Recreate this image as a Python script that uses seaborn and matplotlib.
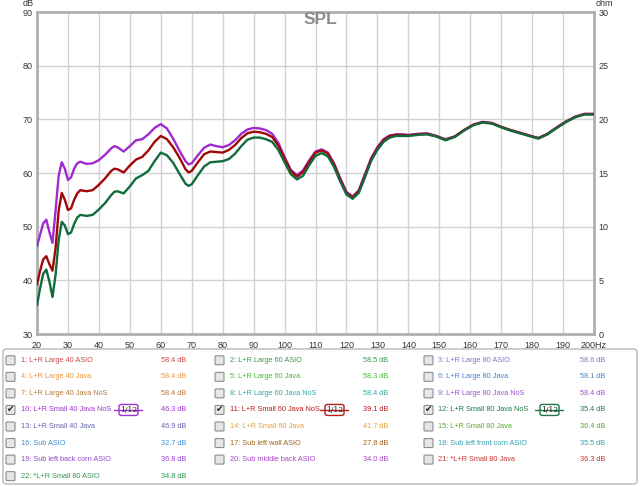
import matplotlib
matplotlib.use("Agg")
import matplotlib.pyplot as plt
import seaborn as sns
import pandas as pd
from matplotlib.patches import FancyBboxPatch
from matplotlib.lines import Line2D

# frequencies (Hz)
freq = [20, 21, 22, 23, 24, 25, 26, 27, 28, 29, 30, 31, 32, 33, 34, 36, 38, 40,
        42, 44, 45, 46, 48, 50, 52, 54, 56, 58, 60, 62, 64, 66, 68, 69, 70, 72,
        74, 76, 78, 80, 82, 84, 86, 88, 90, 92, 94, 96, 98, 100, 102, 104, 106,
        108, 110, 112, 114, 116, 118, 120, 122, 124, 126, 128, 130, 132, 134,
        136, 138, 140, 143, 146, 149, 152, 155, 158, 161, 164, 167, 170, 173,
        176, 179, 182, 185, 188, 191, 194, 197, 200]

# 10: L+R Small 40 Java NoS (purple)
spl_small40 = [46.4, 48.5, 50.6, 51.3, 49.0, 47.0, 53.0, 59.5, 62.0, 60.8, 58.7,
               59.2, 60.8, 61.8, 62.1, 61.7, 61.8, 62.4, 63.4, 64.6, 65.0, 64.8,
               64.0, 65.0, 66.1, 66.3, 67.2, 68.4, 69.1, 68.3, 66.4, 64.2, 62.2,
               61.6, 61.8, 63.3, 64.7, 65.3, 65.0, 64.8, 65.2, 66.1, 67.3, 68.1,
               68.4, 68.3, 68.0, 67.3, 65.6, 63.0, 60.6, 59.6, 60.5, 62.4, 64.0,
               64.4, 63.8, 61.8, 59.0, 56.5, 55.6, 56.8, 59.8, 62.8, 64.8, 66.3,
               67.0, 67.2, 67.2, 67.1, 67.3, 67.4, 66.9, 66.3, 66.8, 68.0, 69.0,
               69.5, 69.3, 68.6, 68.0, 67.5, 67.0, 66.5, 67.3, 68.5, 69.6, 70.5,
               71.0, 71.0]

# 11: L+R Small 60 Java NoS (dark red)
spl_small60 = [39.2, 41.8, 43.9, 44.5, 43.0, 41.8, 46.0, 53.0, 56.3, 55.0, 53.1,
               53.4, 55.0, 56.2, 56.8, 56.6, 56.8, 57.8, 59.0, 60.4, 60.8, 60.7,
               60.1, 61.4, 62.5, 63.0, 64.2, 65.8, 66.9, 66.3, 64.8, 62.9, 60.7,
               60.1, 60.4, 62.0, 63.5, 64.0, 63.9, 63.8, 64.3, 65.2, 66.5, 67.4,
               67.7, 67.6, 67.3, 66.7, 65.1, 62.7, 60.4, 59.3, 60.2, 62.1, 63.8,
               64.2, 63.6, 61.6, 58.8, 56.3, 55.5, 56.6, 59.6, 62.6, 64.6, 66.1,
               66.9, 67.1, 67.1, 67.0, 67.2, 67.3, 66.9, 66.2, 66.8, 68.0, 69.0,
               69.5, 69.3, 68.6, 68.0, 67.5, 67.0, 66.5, 67.3, 68.5, 69.6, 70.5,
               71.0, 71.0]

# 12: L+R Small 80 Java NoS (dark green)
spl_small80 = [35.4, 38.5, 41.2, 42.0, 39.8, 36.9, 41.0, 47.5, 50.9, 50.2, 48.6,
               48.9, 50.5, 51.7, 52.2, 52.0, 52.2, 53.2, 54.4, 55.9, 56.5, 56.6,
               56.2, 57.5, 59.0, 59.6, 60.4, 62.2, 63.8, 63.3, 61.9, 59.9, 58.0,
               57.6, 57.9, 59.6, 61.2, 62.0, 62.1, 62.2, 62.6, 63.6, 65.0, 66.2,
               66.6, 66.6, 66.3, 65.8, 64.3, 62.0, 59.8, 58.8, 59.5, 61.5, 63.2,
               63.7, 63.1, 61.1, 58.4, 56.0, 55.2, 56.3, 59.2, 62.3, 64.3, 65.8,
               66.6, 66.9, 66.9, 66.9, 67.1, 67.2, 66.8, 66.1, 66.7, 67.9, 68.9,
               69.4, 69.2, 68.5, 67.9, 67.4, 66.9, 66.4, 67.2, 68.4, 69.5, 70.4,
               70.9, 70.9]

trace_names = ["10", "11", "12"]
trace_colors = ["#a02ad0", "#a00808", "#106c3c"]

x_ticks = list(range(20, 201, 10))
x_labels = [str(t) for t in x_ticks[:-1]] + ["200Hz"]
db_ticks = list(range(30, 91, 10))
ohm_ticks = list(range(0, 31, 5))

legend_names = [
    "1: L+R Large 40 ASIO", "2: L+R Large 60 ASIO", "3: L+R Large 80 ASIO",
    "4: L+R Large 40 Java", "5: L+R Large 60 Java", "6: L+R Large 80 Java",
    "7: L+R Large 40 Java NoS", "8: L+R Large 60 Java NoS", "9: L+R Large 80 Java NoS",
    "10: L+R Small 40 Java NoS", "11: L+R Small 60 Java NoS", "12: L+R Small 80 Java NoS",
    "13: L+R Small 40 Java", "14: L+R Small 60 Java", "15: L+R Small 80 Java",
    "16: Sub ASIO", "17: Sub left wall ASIO", "18: Sub left front corn ASIO",
    "19: Sub left back corn ASIO", "20: Sub middle back ASIO", "21: *L+R Small 80 Java",
    "22: *L+R Small 80 ASIO",
]
legend_values = ["58.4 dB", "58.5 dB", "58.6 dB", "58.4 dB", "58.3 dB", "58.1 dB",
                 "58.4 dB", "58.4 dB", "58.4 dB", "46.3 dB", "39.1 dB", "35.4 dB",
                 "46.9 dB", "41.7 dB", "36.4 dB", "32.7 dB", "27.8 dB", "35.5 dB",
                 "36.8 dB", "34.0 dB", "36.3 dB", "34.8 dB"]
legend_colors = ["#c84848", "#3c9650", "#7878c8", "#e8963c", "#4cb43c", "#4682c8",
                 "#b8783c", "#34a5a5", "#a050d2", "#a032d2", "#b41e1e", "#1e7846",
                 "#6464b4", "#e6a03c", "#5aaa32", "#468cd2", "#a0641e", "#32a0b4",
                 "#9646c8", "#aa46c8", "#c83232", "#329650"]
checked = [10, 11, 12]

W, H = 640, 486


def fx(x):
    return x / W


def fy(y):
    return 1 - y / H


sns.set_theme(style="white")
plt.rcParams["font.family"] = ["Liberation Sans", "DejaVu Sans"]

fig = plt.figure(figsize=(6.4, 4.86), dpi=100)
ax = fig.add_axes([fx(37), fy(334), (594 - 37) / W, (334 - 12) / H])

df = pd.DataFrame({
    "freq": freq * 3,
    "spl": spl_small40 + spl_small60 + spl_small80,
    "trace": [trace_names[0]] * len(freq) + [trace_names[1]] * len(freq)
             + [trace_names[2]] * len(freq),
})
sns.lineplot(data=df, x="freq", y="spl", hue="trace", hue_order=trace_names,
             palette=trace_colors, linewidth=1.7, legend=False, estimator=None,
             ax=ax, zorder=3)

ax.set_xlim(20, 200)
ax.set_ylim(30, 90)
ax.set_xticks(x_ticks)
ax.set_xticklabels(x_labels)
ax.set_yticks(db_ticks)
ax.set_xlabel("")
ax.set_ylabel("")
ax.grid(True, color="#d2d2d2", linewidth=1.0)
ax.tick_params(axis="y", length=0, labelsize=6.5, colors="#333333", pad=3)
ax.tick_params(axis="x", length=0, labelsize=6.5, colors="#333333", pad=5)
for s in ax.spines.values():
    s.set_color("#b0b0b0")
    s.set_linewidth(2)

ax2 = ax.twinx()
ax2.set_ylim(0, 30)
ax2.set_yticks(ohm_ticks)
ax2.grid(False)
ax2.tick_params(length=0, labelsize=6.5, colors="#333333", pad=3)
for s in ax2.spines.values():
    s.set_visible(False)

fig.text(fx(320), fy(19.5), "SPL", ha="center", va="center", fontsize=12.5,
         fontweight="bold", color="#8c8c8c")
fig.text(fx(28), fy(3.2), "dB", ha="center", va="center", fontsize=6.5, color="#333333")
fig.text(fx(596), fy(3.2), "ohm", ha="left", va="center", fontsize=6.5, color="#333333")

# legend panel
fig.patches.append(FancyBboxPatch((fx(3), fy(484)), fx(634), 135 / H,
                                  boxstyle="round,pad=0,rounding_size=0.006",
                                  transform=fig.transFigure, facecolor="white",
                                  edgecolor="#b8b8b8", linewidth=1.0))

col_box = [6, 215, 424]
col_text = [21, 230, 438]
col_val = [161, 363, 580]
badge_x = [114, 320, 535]
row_y0, row_dy = 360.3, 16.55

for i, name in enumerate(legend_names):
    row, col = divmod(i, 3)
    yc = row_y0 + row * row_dy
    num = i + 1
    c = legend_colors[i]
    fig.patches.append(FancyBboxPatch((fx(col_box[col]), fy(yc + 4.5)), 9 / W, 9 / H,
                                      boxstyle="round,pad=0,rounding_size=0.002",
                                      transform=fig.transFigure, facecolor="#e6e6e6",
                                      edgecolor="#8c8c8c", linewidth=0.8))
    if num in checked:
        fig.text(fx(col_box[col] + 4.5), fy(yc), "\u2714", ha="center", va="center",
                 fontsize=6.5, color="#222222", family="DejaVu Sans")
        bx = badge_x[col]
        fig.lines.append(Line2D([fx(bx), fx(bx + 28)], [fy(yc), fy(yc)],
                                transform=fig.transFigure, color=c, linewidth=1.0))
        fig.patches.append(FancyBboxPatch((fx(bx + 5), fy(yc + 5.5)), 19 / W, 11 / H,
                                          boxstyle="round,pad=0,rounding_size=0.004",
                                          transform=fig.transFigure, facecolor="white",
                                          edgecolor=c, linewidth=1.0))
        fig.text(fx(bx + 14.5), fy(yc), "1/12", ha="center", va="center", fontsize=5.5,
                 color="#222222", family="DejaVu Serif")
    fig.text(fx(col_text[col]), fy(yc), name, ha="left", va="center", fontsize=5.3,
             color=c)
    fig.text(fx(col_val[col]), fy(yc), legend_values[i], ha="left", va="center",
             fontsize=5.3, color=c)

fig.savefig("out.png", dpi=100)
